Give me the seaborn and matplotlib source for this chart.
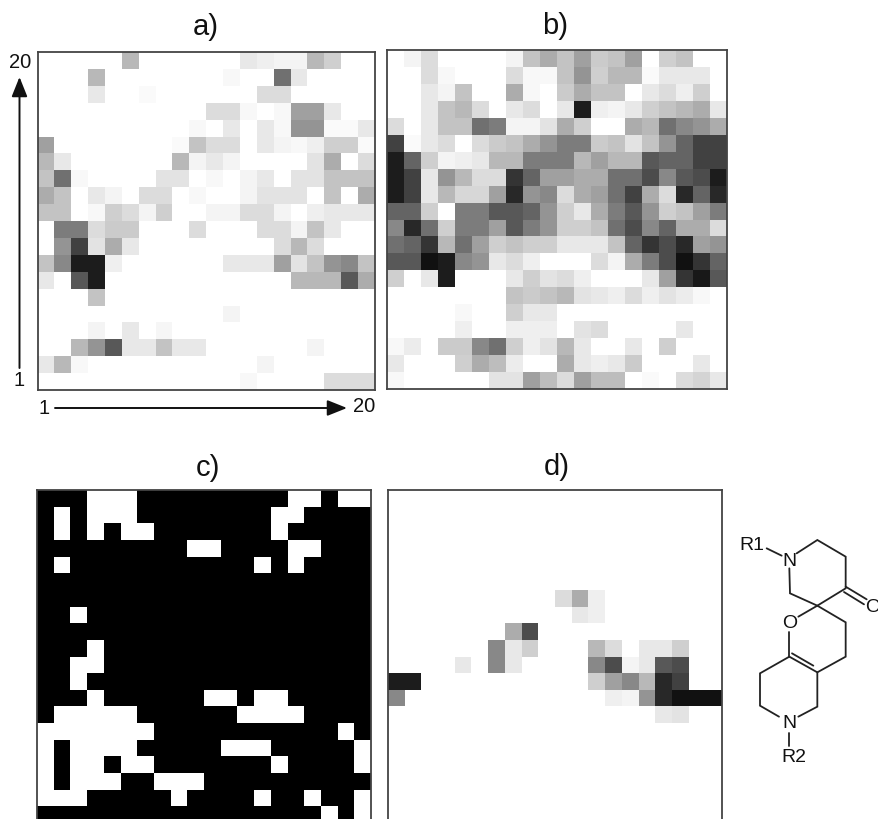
import numpy as np
import matplotlib
matplotlib.use("Agg")
import matplotlib.pyplot as plt
import seaborn as sns

# darkness of each cell, 0 = white, 10 = black, top row first
panel_a = [
    [0, 0, 0, 0, 0, 3, 0, 0, 0, 0, 0, 0, 1, .7, .5, .5, 3, 2, 0, 0],
    [0, 0, 0, 3, 0, 0, 0, 0, 0, 0, 0, .3, 0, 0, 6, 1, 0, 0, 0, 0],
    [0, 0, 0, 1, 0, 0, .2, 0, 0, 0, 0, 0, 0, 1.5, 1.5, 0, 0, 0, 0, 0],
    [0, 0, 0, 0, 0, 0, 0, 0, 0, 0, 1.5, 1.5, .3, 0, .3, 4, 4, 1, 0, 0],
    [0, 0, 0, 0, 0, 0, 0, 0, 0, .3, 0, 1, 0, 1, .3, 4.5, 4.5, .2, .2, 1],
    [4, 0, 0, 0, 0, 0, 0, 0, .2, 2.5, 1.5, 1.5, 0, 1, .5, .3, .7, 2, 2, .2],
    [3, 1, 0, 0, 0, 0, 0, 0, 3, .5, 1, .5, 0, 0, 0, 0, 1.2, 3.5, 0, 1.5],
    [2.5, 6, .3, 0, 0, 0, 0, 1.2, 1.2, 0, .3, 0, .5, 1, 0, 1.2, 1.2, 2.5, 2.5, 2.5],
    [3.5, 2.5, 0, 1, .5, 0, 1.5, 1.5, 0, .3, 0, 0, .5, 1.2, 1.2, 1.2, 0, 2.5, 0, 3.5],
    [2.5, 2.5, 0, .3, 2, 1.5, .5, 2, 0, 0, .5, .5, 1.5, 1.5, .5, 0, .7, 1, 1, 1],
    [0, 5.5, 5.5, 1.5, 2.2, 2.2, 0, 0, 0, 1.5, 0, 0, 0, 1.5, 1.5, .5, 2.5, 1, 0, 0],
    [0, 4.5, 8, 1.2, 3.5, 1, 0, 0, 0, 0, 0, 0, 0, 0, 1.5, 3, 1.5, 0, 0, 0],
    [2.5, 5, 9.5, 9.5, .7, 0, 0, 0, 0, 0, 0, 1, 1, 1, 4, 1.2, 2.5, 4.5, 5, 2.5],
    [1, 0, 7, 9.5, 0, 0, 0, 0, 0, 0, 0, 0, 0, 0, 0, 3, 3, 3, 7, 3.5],
    [0, 0, 0, 2.5, 0, 0, 0, 0, 0, 0, 0, 0, 0, 0, 0, 0, 0, 0, 0, 0],
    [0, 0, 0, 0, 0, 0, 0, 0, 0, 0, 0, .5, 0, 0, 0, 0, 0, 0, 0, 0],
    [0, 0, 0, .5, 0, 1, 0, .4, 0, 0, 0, 0, 0, 0, 0, 0, 0, 0, 0, 0],
    [0, 0, 3, 4.5, 7, 1, 1, 2.5, 1, 1, 0, 0, 0, 0, 0, 0, .5, 0, 0, 0],
    [1, 3, .3, 0, 0, 0, 0, 0, 0, 0, 0, 0, 0, .5, 0, 0, 0, 0, 0, 0],
    [0, 0, 0, 0, 0, 0, 0, 0, 0, 0, 0, 0, .3, 0, 0, 0, 0, 1.5, 1.5, 1.5],
]
panel_b = [
    [0, .5, 1.5, 0, 0, 0, 0, .5, 2.5, 3.5, 2.5, 4, 2.2, 2.5, 4, 0, 2, 2.5, 0, 0],
    [0, 0, 1.5, .3, 0, 0, 0, 1.5, .3, .3, 2.5, 4.5, 2, 3, 3, .2, 1, 1, 1, 0],
    [0, 0, 1, .5, 2.5, 0, 0, 3.5, .3, 0, 2.2, 3.5, 2.5, 2.5, 0, 1, 1.5, .7, 2, 0],
    [0, 0, 1, 2.5, 3, 1.5, 0, 1, 1.5, 0, 1, 9.5, .7, .5, 1, 2, 2.5, 3, 3.5, 1],
    [1.5, 0, 1, 2.5, 2.5, 6, 5.5, .5, .5, 1.2, 3.5, 2, 0, 0, 3.5, 3, 6, 5, 4.5, 3.5],
    [8, .2, 1, 1.5, 0, 1.5, 2.2, 2.5, 3.5, 4.5, 5.5, 5.5, 2.2, 2.5, 1.2, 2.5, 4.5, 6.5, 8, 8],
    [9.5, 6.5, 2, .5, .7, 1, 3, 3, 5.5, 5.5, 5.5, 3, 4, 3, 3, 7, 6.5, 6.5, 8, 8],
    [9.5, 8, 1, 4.5, 3, 1.5, 1.5, 8.5, 6.5, 4, 4, 3.5, 3.5, 6, 6, 7.5, 5, 7, 7.5, 9.5],
    [9.5, 8, 1, 3, 1.7, 1.7, 4, 9, 4.5, 5, 1.5, 3.5, 4, 6, 8, 3.5, 1.5, 9, 6.5, 9],
    [6.5, 6.5, 2, 0, 5.5, 5.5, 7, 7, 6.5, 4.5, 2, 1, 3.5, 5.5, 7, 4.5, 2, 2.5, 4, 5.5],
    [5, 9, 6, 2, 5.5, 5.5, 4, 7, 5.5, 4.5, 2, 2, 2.5, 6, 7.5, 5, 6.5, 3.5, 3.5, 1.5],
    [6, 6.5, 8.5, 3, 6, 4, 2, 2.5, 2, 2, 1, 1, 1, 2.5, 6.5, 8.5, 7.5, 9, 4, 4.5],
    [7, 7, 10, 9.5, 5, 4.5, 1, 1.5, .7, 0, 0, 0, 1.5, .5, 3.5, 5.5, 7.5, 10, 8.5, 6.5],
    [2, 0, 1, 9.5, 0, 0, 0, 1, 2, 1.2, 1.5, .7, 0, 0, 0, 1, 4, 8.5, 9.7, 7],
    [0, 0, 0, 0, 0, 0, 0, 2.5, 2.2, 2.5, 3, 1.2, 1, .7, 1.5, .7, 1.2, .8, .3, 0],
    [0, 0, 0, 0, .3, 0, 0, 2, 1, 1, 0, 0, 0, 0, 0, 0, 0, 0, 0, 0],
    [0, 0, 0, 0, .7, 0, 0, .7, .7, .7, 0, 1.2, 1.5, 0, 0, 0, 0, 1, 0, 0],
    [.3, .8, 0, 2.2, 2.2, 5, 6, 2, .7, 1.2, 3, 1, 0, 0, 1, 0, 2, 0, 0, 0],
    [1, 0, 0, 0, 2, 3.5, 2.8, .8, 0, 0, 3.5, 1, .7, 1, 2.2, 0, 0, 0, 1, 0],
    [.3, 0, 0, 0, 0, 0, 1.2, 1.2, 4, 2.8, 1.5, 4, 2.8, 2.8, 0, .2, 0, 1.5, 1.8, 1],
]
# columns that are white in panel c, one list per row
panel_c_white = [
    [3, 4, 5, 15, 16, 18, 19],
    [1, 3, 4, 5, 14, 15],
    [1, 3, 5, 6, 14],
    [9, 10, 15, 16],
    [1, 13, 15],
    [],
    [],
    [2],
    [],
    [3],
    [2, 3],
    [2],
    [3, 10, 11, 13, 14],
    [1, 2, 3, 4, 5, 12, 13, 14, 15],
    [0, 1, 2, 3, 4, 5, 6, 18],
    [0, 2, 3, 4, 5, 11, 12, 13, 19],
    [0, 2, 3, 5, 6, 14, 19],
    [0, 2, 3, 4, 7, 8, 9],
    [0, 1, 2, 8, 13, 16, 19],
    [17, 19],
]
panel_d = [
    [0] * 20,
    [0] * 20,
    [0] * 20,
    [0] * 20,
    [0] * 20,
    [0] * 20,
    [0, 0, 0, 0, 0, 0, 0, 0, 0, 0, 1.5, 3.5, .7, 0, 0, 0, 0, 0, 0, 0],
    [0, 0, 0, 0, 0, 0, 0, 0, 0, 0, 0, 1, .7, 0, 0, 0, 0, 0, 0, 0],
    [0, 0, 0, 0, 0, 0, 0, 3.5, 7.5, 0, 0, 0, 0, 0, 0, 0, 0, 0, 0, 0],
    [0, 0, 0, 0, 0, 0, 5, 1, 2, 0, 0, 0, 3, 1.5, 0, 1, 1, 2, 0, 0],
    [0, 0, 0, 0, 1, 0, 5, 1, 0, 0, 0, 0, 5, 7.5, .5, 1, 7, 7.5, 0, 0],
    [9.5, 9.5, 0, 0, 0, 0, 0, 0, 0, 0, 0, 0, 2, 4, 5, 3, 9, 8, 0, 0],
    [5, 0, 0, 0, 0, 0, 0, 0, 0, 0, 0, 0, 0, .7, .5, 4.5, 9, 10, 10, 10],
    [0, 0, 0, 0, 0, 0, 0, 0, 0, 0, 0, 0, 0, 0, 0, 0, 1, 1.2, 0, 0],
    [0] * 20,
    [0] * 20,
    [0] * 20,
    [0] * 20,
    [0] * 20,
    [0] * 20,
]
panel_titles = ["a)", "b)", "c)", "d)"]
axis_labels = ["1", "20"]

sns.set_style("white")
plt.rcParams['font.family'] = ['Liberation Sans', 'DejaVu Sans']

W, H = 879, 819
fig = plt.figure(figsize=(W / 100, H / 100), dpi=100)
grey_map = sns.blend_palette(["#ffffff", "#111111"], as_cmap=True)
bw_map = sns.blend_palette(["#ffffff", "#000000"], as_cmap=True)


def panel(values, left, top, right, bottom, title, title_x, title_y, cmap=grey_map):
    ax = fig.add_axes([left / W, 1 - bottom / H, (right - left) / W, (bottom - top) / H])
    sns.heatmap(np.array(values, dtype=float), ax=ax, cmap=cmap, vmin=0, vmax=10,
                cbar=False, xticklabels=False, yticklabels=False)
    for s in ax.spines.values():
        s.set_visible(True)
        s.set_color("#444444")
        s.set_linewidth(1.3)
    over.text(title_x, title_y, title, fontsize=21, ha="center", va="center", color="#111111")
    return ax


# overlay in picture pixels for the labels, arrows and the structure
over = fig.add_axes([0, 0, 1, 1], zorder=5)
over.set_xlim(0, W)
over.set_ylim(H, 0)
over.axis("off")
over.patch.set_alpha(0)

panel_c = np.full((20, 20), 10.0)
for i, cols in enumerate(panel_c_white):
    panel_c[i, cols] = 0

panel(panel_a, 37.5, 52, 375, 390, panel_titles[0], 206, 27)
panel(panel_b, 387, 50, 727, 389, panel_titles[1], 555, 26)
panel(panel_c, 37, 490, 371, 823, panel_titles[2], 208, 468, cmap=bw_map)
panel(panel_d, 388, 490, 722, 823, panel_titles[3], 557, 467)

# axis arrows
arrow = dict(arrowstyle="-|>,head_length=0.8,head_width=0.32", color="#111111", lw=1.4,
             mutation_scale=15, shrinkA=0, shrinkB=0)
over.annotate("", xy=(19.5, 77), xytext=(19.5, 368), arrowprops=arrow)
over.annotate("", xy=(347, 408), xytext=(55, 408), arrowprops=arrow)
over.text(20, 62, axis_labels[1], fontsize=14.5, ha="center", va="center", color="#111111")
over.text(19, 381, axis_labels[0], fontsize=14.5, ha="center", va="center", color="#111111")
over.text(44, 408, axis_labels[0], fontsize=14.5, ha="center", va="center", color="#111111")
over.text(364, 407, axis_labels[1], fontsize=14.5, ha="center", va="center", color="#111111")

# structure on the right, bond ends in zoomed crop units
bonds = [
    [(1160, 325), (1205, 347)],
    [(1250, 340), (1312, 300), (1397, 350), (1397, 445), (1312, 497), (1230, 460), (1228, 385)],
    [(1397, 440), (1460, 478)],
    [(1392, 456), (1452, 493)],
    [(1312, 497), (1255, 530)],
    [(1312, 497), (1397, 547), (1397, 650), (1312, 697), (1228, 650), (1140, 700), (1140, 797), (1197, 830)],
    [(1300, 677), (1236, 640)],
    [(1228, 575), (1228, 650)],
    [(1255, 830), (1312, 800), (1312, 697)],
    [(1228, 878), (1228, 918)],
]
for b in bonds:
    xs = [380 + p[0] / 3 for p in b]
    ys = [440 + p[1] / 3 for p in b]
    over.plot(xs, ys, color="#222222", lw=1.3, solid_joinstyle="miter")
over.text(752, 545, "R1", fontsize=14, ha="center", va="center", color="#111111")
over.text(789.5, 561, "N", fontsize=14, ha="center", va="center", color="#111111")
over.text(789.5, 623, "O", fontsize=14, ha="center", va="center", color="#111111")
over.text(873, 607.5, "O", fontsize=14, ha="center", va="center", color="#111111")
over.text(789.5, 724, "N", fontsize=14, ha="center", va="center", color="#111111")
over.text(794, 757, "R2", fontsize=14, ha="center", va="center", color="#111111")

fig.savefig("out.png", dpi=100)
